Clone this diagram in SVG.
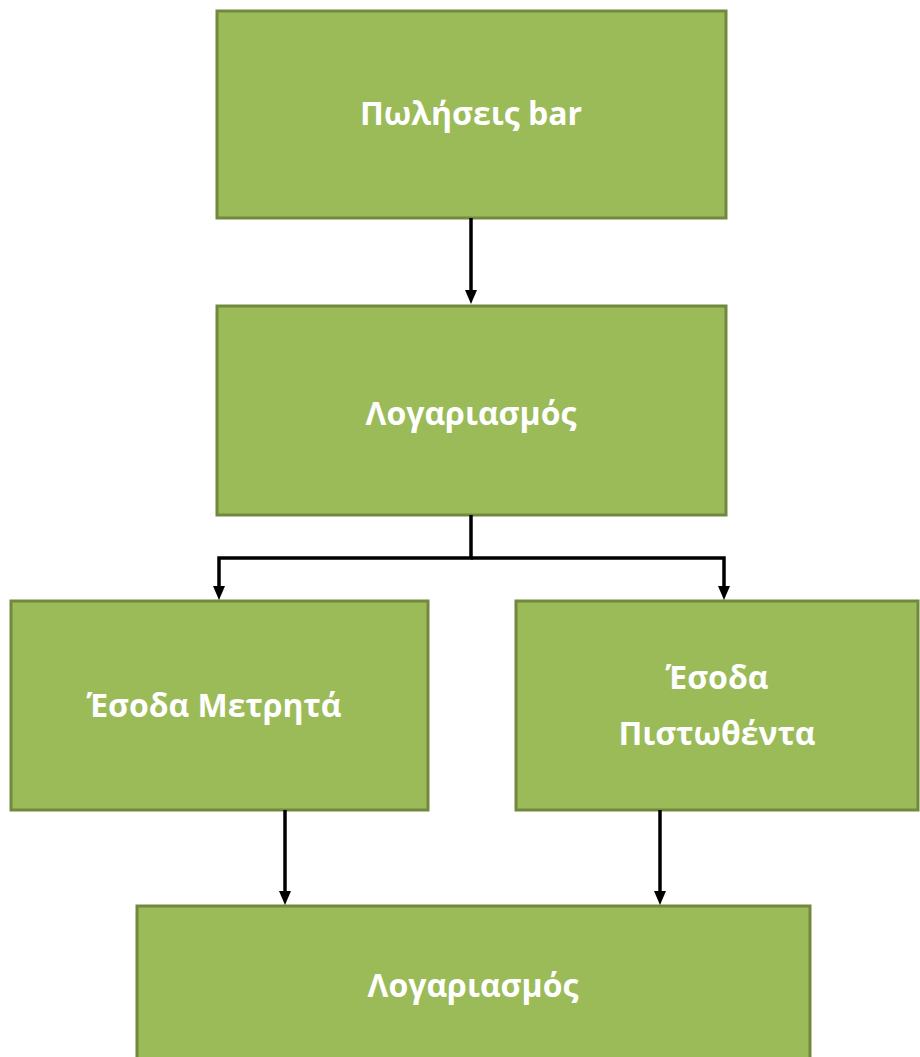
<svg xmlns="http://www.w3.org/2000/svg" width="920" height="1057" viewBox="0 0 920 1057">
<style>
.box{fill:#9BBB59;stroke:#71893F;stroke-width:3}
.lbl{fill:#FFFFFF;font-family:"Open Sans","Noto Sans","DejaVu Sans",sans-serif;font-weight:bold;font-size:32px;text-anchor:middle;dominant-baseline:central}
.con{fill:none;stroke:#000;stroke-width:3.5}
</style>
<rect width="920" height="1057" fill="#FFFFFF"/>
<g id="n1"><rect class="box" x="217" y="11" width="509" height="207"/><text class="lbl" x="471" y="112">Πωλήσεις bar</text></g>
<g id="n2"><rect class="box" x="217" y="306" width="509" height="209"/><text class="lbl" x="471" y="412">Λογαριασμός</text></g>
<g id="n3"><rect class="box" x="11" y="601" width="417" height="209"/><text class="lbl" x="214" y="704">Έσοδα Μετρητά</text></g>
<g id="n4"><rect class="box" x="516" y="601" width="402" height="209"/><text class="lbl" x="717" y="676">Έσοδα</text><text class="lbl" x="717" y="732">Πιστωθέντα</text></g>
<g id="n5"><rect class="box" x="137" y="906" width="673" height="160"/><text class="lbl" x="473" y="984">Λογαριασμός</text></g>
<g id="connectors">
<path class="con" d="M471,218 V292"/>
<path d="M465,290 L477,290 L471,304 Z"/>
<path class="con" d="M471,515 V558 H219 V588"/>
<path d="M213,586 L225,586 L219,600 Z"/>
<path class="con" d="M471,558 H724 V588"/>
<path d="M718,586 L730,586 L724,600 Z"/>
<path class="con" d="M285,810 V893"/>
<path d="M279,891 L291,891 L285,905 Z"/>
<path class="con" d="M660,810 V893"/>
<path d="M654,891 L666,891 L660,905 Z"/>
</g>
</svg>
